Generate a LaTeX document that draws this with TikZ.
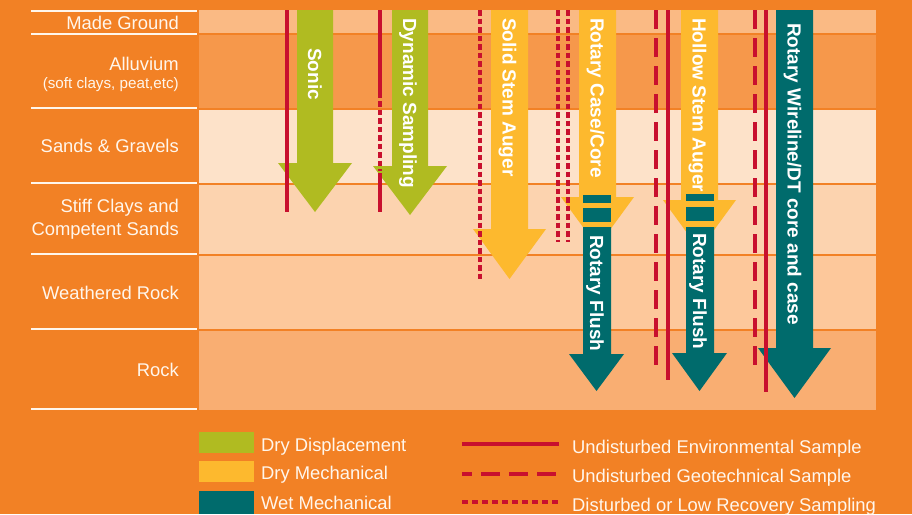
\documentclass[tikz,border=0pt]{standalone}
\usepackage{fontspec}
\setmainfont{Liberation Sans}
\definecolor{bgor}{HTML}{F28125}
\definecolor{madeg}{HTML}{FABA84}
\definecolor{alluv}{HTML}{F6984B}
\definecolor{sandsc}{HTML}{FDE2C9}
\definecolor{stiffc}{HTML}{FCD3AF}
\definecolor{weathc}{HTML}{FDC89B}
\definecolor{rockc}{HTML}{F9AE72}
\definecolor{dgreen}{HTML}{B0BB21}
\definecolor{dyellow}{HTML}{FDB92E}
\definecolor{wteal}{HTML}{006B6C}
\definecolor{sred}{HTML}{C8102E}
\definecolor{txtw}{HTML}{FFF6EC}
\newcommand\borearrow[8]{%
  \fill[#1] (#2,#4) -- (#3,#4) -- (#3,#5) -- (#7,#5) -- ({(#6+#7)/2},#8) -- (#6,#5) -- (#2,#5) -- cycle;}
\tikzset{
  sepline/.style={draw=txtw, line width=1.5pt},
  laylabel/.style={font=\fontsize{18.4}{20}\selectfont, text=txtw, inner sep=0pt, anchor=base east},
  smalllabel/.style={font=\fontsize{15.2}{18}\selectfont, text=txtw, inner sep=0pt, anchor=base east},
  arrlabel/.style={font=\fontsize{19}{21}\selectfont\bfseries, text=white, inner sep=0pt, rotate=-90, anchor=west, text height=13.6pt, text depth=0pt},
  leglabel/.style={font=\fontsize{18.4}{20}\selectfont, text=txtw, inner sep=0pt, anchor=base west},
  envline/.style={draw=sred, line width=3.5pt},
  geoline/.style={draw=sred, line width=3.5pt, dash pattern=on 19pt off 9pt},
  lowline/.style={draw=sred, line width=3.5pt, dash pattern=on 5.5pt off 3pt},
}
\begin{document}
\begin{tikzpicture}[x=1pt,y=-1pt]
\useasboundingbox (0,0) rectangle (912,514);
\fill[bgor] (0,0) rectangle (912,514);
% strata
\fill[madeg] (199,10) rectangle (876,33);
\fill[alluv] (199,35) rectangle (876,108);
\fill[sandsc] (199,110) rectangle (876,183);
\fill[stiffc] (199,185) rectangle (876,254);
\fill[weathc] (199,256) rectangle (876,329);
\fill[rockc] (199,331) rectangle (876,410);
% left separators
\foreach \yy in {11,34,108,183,254,329,409} \draw[sepline] (31,\yy) -- (197,\yy);
% left labels
\node[laylabel] (lmg) at (179,29) {Made Ground};
\node[laylabel] (lal) at (179,70.5) {Alluvium};
\node[smalllabel] (lals) at (179,88) {(soft clays, peat,etc)};
\node[laylabel] (lsg) at (179,152) {Sands \& Gravels};
\node[laylabel] (lsc) at (179,212) {Stiff Clays and};
\node[laylabel] (lcs) at (179,235) {Competent Sands};
\node[laylabel] (lwr) at (179,299) {Weathered Rock};
\node[laylabel] (lrk) at (179,376) {Rock};
% arrows
\borearrow{dgreen}{297}{333}{10}{163}{278}{352}{212}
\borearrow{dgreen}{392}{428}{10}{166}{373}{447}{215}
\borearrow{dyellow}{491}{528}{10}{229}{473}{546}{279}
\borearrow{dyellow}{579}{616}{10}{197}{561}{634}{247}
\fill[wteal] (583,195) rectangle (611,203);
\fill[wteal] (583,208) rectangle (611,222);
\borearrow{wteal}{583}{611}{227}{354}{569}{624}{391}
\borearrow{dyellow}{681}{718}{10}{200}{663}{736}{250}
\fill[wteal] (686,194) rectangle (714,201);
\fill[wteal] (686,207) rectangle (714,221);
\borearrow{wteal}{686}{714}{227}{353}{672}{727}{391}
\borearrow{wteal}{776}{813}{10}{348}{758}{831}{398}
% arrow labels
\node[arrlabel] (tsonic) at (315,48) {Sonic};
\node[arrlabel] (tdyn) at (410,18) {Dynamic Sampling};
\node[arrlabel] (tssa) at (509.5,18) {Solid Stem Auger};
\node[arrlabel] (trcc) at (597.5,18) {Rotary Case/Core};
\node[arrlabel] (trf1) at (597,235) {Rotary Flush};
\node[arrlabel] (thsa) at (699.5,18) {Hollow Stem Auger};
\node[arrlabel] (trf2) at (700,233) {Rotary Flush};
\node[arrlabel] (trw) at (794.5,23) {Rotary Wireline/DT core and case};
% sample lines
\draw[envline] (287,10) -- (287,212);
\draw[envline] (380,10) -- (380,98);
\draw[lowline] (380,101) -- (380,171);
\draw[envline] (380,173) -- (380,212);
\draw[lowline] (480,10) -- (480,280);
\draw[lowline] (558,10) -- (558,242);
\draw[lowline] (568,10) -- (568,242);
\draw[geoline] (656,10) -- (656,368);
\draw[envline] (668,10) -- (668,380);
\draw[geoline] (755,10) -- (755,373);
\draw[envline] (766,10) -- (766,392);
% legend
\fill[dgreen] (199,432) rectangle (254,453);
\fill[dyellow] (199,461) rectangle (254,482);
\fill[wteal] (199,491) rectangle (254,514);
\node[leglabel] (ldd) at (261,451) {Dry Displacement};
\node[leglabel] (ldm) at (261,479) {Dry Mechanical};
\node[leglabel] (lwm) at (261,509) {Wet Mechanical};
\draw[envline, line width=4.5pt] (462,444) -- (559,444);
\draw[geoline, line width=4.5pt, dash phase=9pt] (462,474) -- (559,474);
\draw[lowline, line width=4.5pt, dash pattern=on 6pt off 4pt] (462,502) -- (559,502);
\node[leglabel] (lue) at (572,453) {Undisturbed Environmental Sample};
\node[leglabel] (lug) at (572,482) {Undisturbed Geotechnical Sample};
\node[leglabel] (ldl) at (572,511) {Disturbed or Low Recovery Sampling};
\end{tikzpicture}
\end{document}
